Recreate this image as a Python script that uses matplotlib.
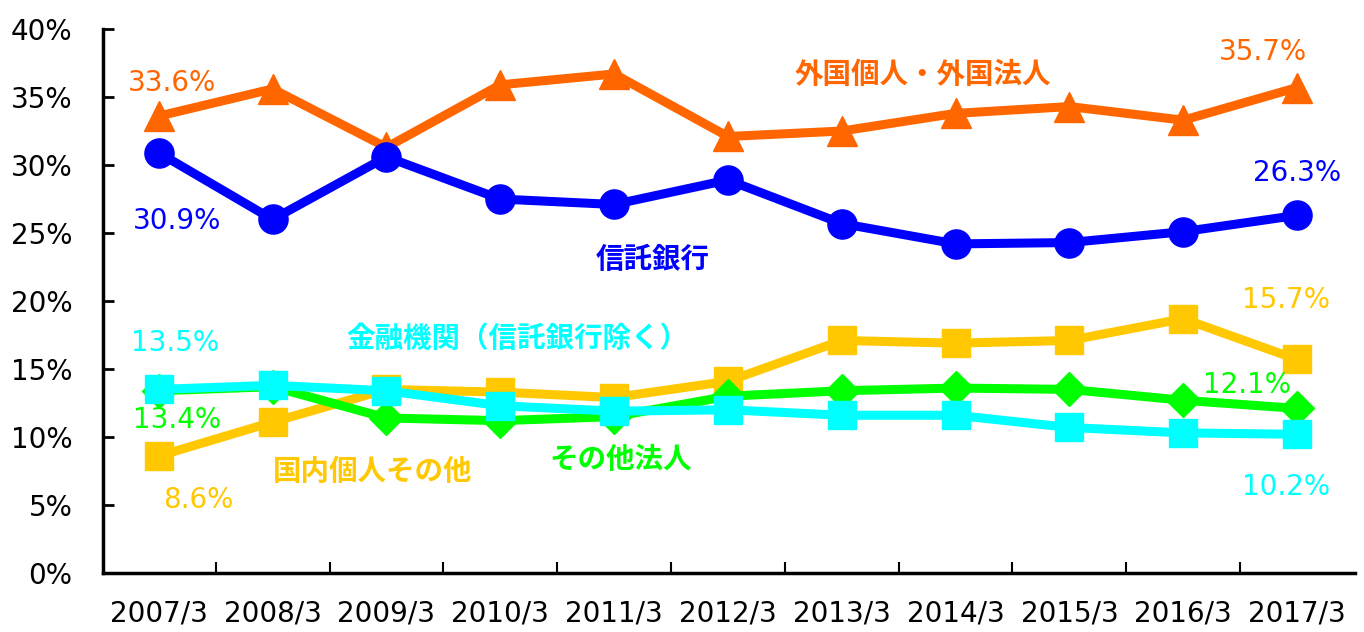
import numpy as np
import matplotlib.pyplot as plt

plt.rcParams['font.family'] = ['DejaVu Sans', 'Noto Sans CJK JP']

# data (percent)
years = ['2007/3', '2008/3', '2009/3', '2010/3', '2011/3', '2012/3',
         '2013/3', '2014/3', '2015/3', '2016/3', '2017/3']
foreign = [33.6, 35.6, 31.3, 35.9, 36.7, 32.1, 32.5, 33.8, 34.3, 33.3, 35.7]
trust_bank = [30.9, 26.0, 30.6, 27.5, 27.1, 28.9, 25.7, 24.2, 24.3, 25.1, 26.3]
individuals = [8.6, 11.1, 13.5, 13.3, 12.9, 14.1, 17.1, 16.9, 17.1, 18.7, 15.7]
other_corp = [13.4, 13.7, 11.4, 11.2, 11.5, 13.0, 13.4, 13.6, 13.5, 12.7, 12.1]
financial = [13.5, 13.8, 13.4, 12.3, 11.9, 12.0, 11.6, 11.6, 10.7, 10.3, 10.2]

c_orange = '#FF6600'
c_blue = '#0000FF'
c_yellow = '#FFC800'
c_green = '#00FF00'
c_cyan = '#00FFFF'

x = np.arange(len(years))

fig = plt.figure(figsize=(13.64, 6.32), dpi=100)
ax = fig.add_axes([0.0755, 0.0934, 0.918, 0.8606])

ax.plot(x, foreign, color=c_orange, lw=6.5, marker='^', ms=21)
ax.plot(x, trust_bank, color=c_blue, lw=6.5, marker='o', ms=21)
ax.plot(x, individuals, color=c_yellow, lw=6.5, marker='s', ms=20)
ax.plot(x, other_corp, color=c_green, lw=6.5, marker='D', ms=17)
ax.plot(x, financial, color=c_cyan, lw=6.5, marker='s', ms=20)

ax.set_xlim(-0.49, 10.51)
ax.set_ylim(0, 40)

ax.set_yticks(np.arange(0, 41, 5))
ax.set_yticklabels([f'{v}%' for v in range(0, 41, 5)])
ax.set_xticks(x)
ax.set_xticklabels(years)
ax.set_xticks(np.arange(0.5, 10.5, 1), minor=True)

ax.tick_params(axis='y', direction='in', length=8, width=2, labelsize=20, pad=22)
ax.tick_params(axis='x', which='major', length=0, labelsize=20, pad=19)
ax.tick_params(axis='x', which='minor', direction='in', length=8, width=1.5)

for s in ['top', 'right']:
    ax.spines[s].set_visible(False)
for s in ['left', 'bottom']:
    ax.spines[s].set_linewidth(2.5)

num = dict(fontsize=20, ha='center', va='center')
ax.text(0.12, 36.0, '33.6%', color=c_orange, **num)
ax.text(9.7, 38.3, '35.7%', color=c_orange, **num)
ax.text(0.16, 25.9, '30.9%', color=c_blue, **num)
ax.text(10.0, 29.4, '26.3%', color=c_blue, **num)
ax.text(9.9, 20.1, '15.7%', color=c_yellow, **num)
ax.text(0.35, 5.4, '8.6%', color=c_yellow, **num)
ax.text(0.14, 16.9, '13.5%', color=c_cyan, **num)
ax.text(9.9, 6.3, '10.2%', color=c_cyan, **num)
ax.text(0.16, 11.25, '13.4%', color=c_green, **num)
ax.text(9.56, 13.8, '12.1%', color=c_green, **num)

jp = dict(fontsize=20.5, ha='center', va='center', fontweight='bold',
          family=['Noto Sans CJK JP', 'DejaVu Sans'])
ax.text(6.71, 36.6, '外国個人・外国法人', color=c_orange, **jp)
ax.text(4.34, 23.0, '信託銀行', color=c_blue, **jp)
ax.text(3.15, 17.2, '金融機関（信託銀行除く）', color=c_cyan, **jp)
ax.text(1.88, 7.4, '国内個人その他', color=c_yellow, **jp)
ax.text(4.06, 8.3, 'その他法人', color=c_green, **jp)

fig.savefig('out.png', dpi=100)
